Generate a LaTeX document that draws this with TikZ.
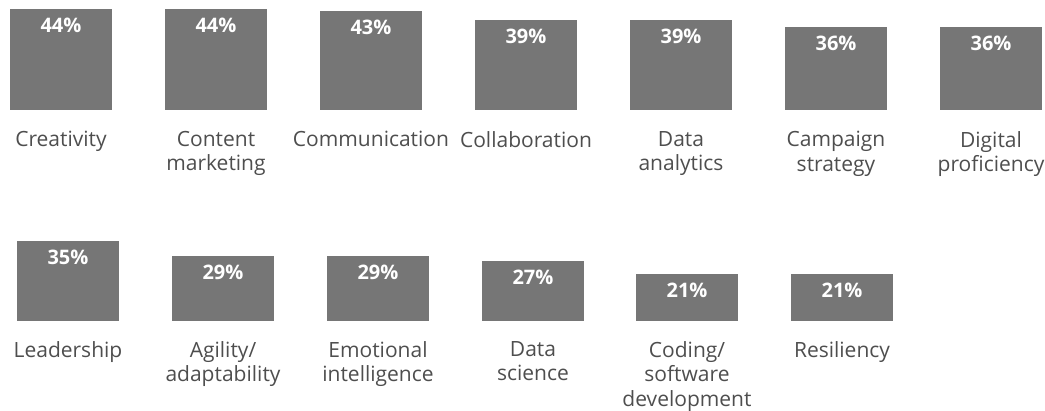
\documentclass[tikz,border=0pt]{standalone}
\usepackage{fontspec}
\setmainfont{Open Sans}
\usetikzlibrary{positioning}
\definecolor{bargray}{RGB}{118,118,118}
\definecolor{labelgray}{RGB}{78,78,78}
\tikzstyle{bar}=[%
      rectangle, fill=bargray, draw=none, anchor=south,
      minimum width=102pt, inner sep=0pt
]
\tikzstyle{pct}=[%
      text=white, font=\bfseries\fontsize{20}{20}\selectfont, inner sep=0pt
]
\tikzstyle{lbl}=[%
      text=labelgray, font=\fontsize{21}{24.5}\selectfont, align=center, inner sep=0pt
]

\begin{document}
\begin{tikzpicture}[x=1pt, y=-1pt]
    \useasboundingbox (0,0) rectangle (1045,411);

    % top row
    \foreach \x/\h/\p/\t [count=\i] in {%
        61/101/44/Creativity, 216/101/44/{Content\\marketing},
        371/99/43/Communication, 526/90/39/Collaboration,
        681/90/39/{Data\\analytics}, 836/83/36/{Campaign\\strategy},
        991/83/36/{Digital\\proficiency}}
    {
        \node[bar, minimum height=\h pt] (top\i) at (\x,110) {};
        \node[pct, below=9pt of top\i.north] (toppct\i) {\p\%};
        \node[lbl, below=21pt of top\i] (toplbl\i) {\t};
    }

    % bottom row
    \foreach \x/\h/\p/\t [count=\i] in {%
        68/80/35/Leadership, 223/65/29/{Agility/\\adaptability},
        378/65/29/{Emotional\\intelligence}, 533/60/27/{Data\\science},
        687/47/21/{Coding/\\software\\development}, 842/47/21/Resiliency}
    {
        \node[bar, minimum height=\h pt] (bot\i) at (\x,321) {};
        \node[pct, below=9pt of bot\i.north] (botpct\i) {\p\%};
        \node[lbl, below=20pt of bot\i] (botlbl\i) {\t};
    }
\end{tikzpicture}
\end{document}
